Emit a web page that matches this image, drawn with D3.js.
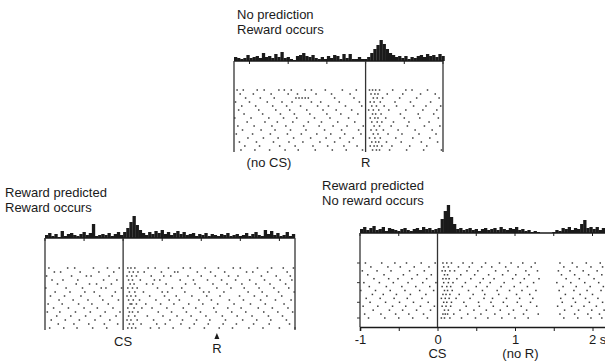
<!DOCTYPE html>
<html>
<head>
<meta charset="utf-8">
<script src="https://cdn.jsdelivr.net/npm/d3@7"></script>
<style>
  body { margin: 0; background: #fff; }
  svg { display: block; font-family: "Liberation Sans", Arial, sans-serif; }
</style>
</head>
<body>
<svg id="chart" width="605" height="362"></svg>
<script>
// bin width of the peri-event histograms (s)
const binWidth = 0.04;

// top: no prediction, reward occurs (time relative to R)
const topHistStart = -1.70;
const topHist = [4, 3, 2, 3, 6, 3, 4, 5, 3, 8, 4, 5, 3, 7, 4, 9, 3, 4, 2, 1, 5, 6, 8, 5, 4,
  6, 3, 2, 4, 2, 5, 3, 6, 5, 2, 7, 3, 7, 2, 2, 4, 2, 2,
  4, 8, 12, 16, 21, 17, 12, 8, 6, 4, 5, 3, 5, 2, 4, 3, 5, 6, 4, 7, 5, 6, 4, 7, 5];
const topTrials = [
  [-1.66, -1.58, -1.40, -1.31, -1.12, -1.05, -0.96, -0.78, -0.70, -0.52, -0.30, -0.12, 0.05, 0.09, 0.13, 0.18, 0.35, 0.52, 0.60, 0.80],
  [-1.62, -1.45, -1.22, -1.00, -0.88, -0.64, -0.44, -0.20, 0.07, 0.12, 0.16, 0.28, 0.48, 0.71, 0.90],
  [-1.55, -1.36, -1.18, -0.90, -0.86, -0.82, -0.78, -0.74, -0.40, -0.15, 0.10, 0.15, 0.22, 0.44, 0.66, 0.95],
  [-1.68, -1.50, -1.27, -1.08, -0.95, -0.70, -0.58, -0.34, -0.08, 0.06, 0.11, 0.19, 0.38, 0.58, 0.84],
  [-1.60, -1.42, -1.20, -1.02, -0.84, -0.62, -0.48, -0.26, -0.05, 0.08, 0.14, 0.24, 0.40, 0.62, 0.78, 0.97],
  [-1.64, -1.38, -1.16, -0.98, -0.76, -0.55, -0.38, -0.18, 0.04, 0.10, 0.17, 0.30, 0.52, 0.74, 0.92],
  [-1.57, -1.33, -1.10, -0.92, -0.72, -0.50, -0.32, -0.10, 0.09, 0.13, 0.20, 0.45, 0.68, 0.88],
  [-1.69, -1.48, -1.25, -1.06, -0.89, -0.66, -0.46, -0.22, 0.06, 0.12, 0.16, 0.26, 0.50, 0.70, 0.94],
  [-1.53, -1.30, -1.14, -0.94, -0.74, -0.57, -0.36, -0.14, 0.08, 0.15, 0.21, 0.36, 0.56, 0.82],
  [-1.65, -1.44, -1.21, -1.03, -0.80, -0.60, -0.42, -0.24, -0.03, 0.11, 0.18, 0.33, 0.54, 0.76, 0.96],
  [-1.59, -1.35, -1.17, -0.97, -0.77, -0.53, -0.31, -0.09, 0.07, 0.14, 0.23, 0.42, 0.64, 0.86],
  [-1.67, -1.46, -1.23, -1.01, -0.83, -0.63, -0.45, -0.27, -0.06, 0.10, 0.16, 0.29, 0.47, 0.69, 0.91],
  [-1.52, -1.32, -1.13, -0.93, -0.71, -0.51, -0.33, -0.16, 0.05, 0.12, 0.19, 0.39, 0.61, 0.83],
  [-1.63, -1.41, -1.19, -0.99, -0.81, -0.59, -0.40, -0.21, 0.08, 0.13, 0.17, 0.27, 0.46, 0.72, 0.93],
  [-1.56, -1.37, -1.11, -0.91, -0.68, -0.49, -0.28, -0.11, 0.06, 0.11, 0.15, 0.21, 0.34, 0.57, 0.79],
  [-1.61, -1.43, -1.24, -1.04, -0.87, -0.65, -0.43, -0.25, -0.04, 0.09, 0.14, 0.18, 0.31, 0.53, 0.75, 0.98]
];

// bottom left: reward predicted, reward occurs (time relative to CS)
const leftHistStart = -1.00;
const leftHist = [3, 5, 2, 4, 1, 7, 2, 4, 5, 3, 2, 4, 6, 3, 5, 14, 2, 3, 4, 3, 5, 2, 4, 6, 3,
  6, 10, 16, 22, 13, 8, 5, 3, 6, 4, 7, 5, 8, 4, 6, 3, 5, 7, 4, 6, 3, 4, 5, 2, 4,
  3, 5, 2, 4, 3, 2, 4, 3, 5, 2, 3, 4, 2, 3, 5, 2, 4, 6, 3, 2, 8, 4, 7, 3, 5,
  2, 3, 6, 2, 4];
const leftTrials = [
  [-0.95, -0.71, -0.62, -0.38, -0.20, -0.05, 0.06, 0.10, 0.15, 0.32, 0.41, 0.58, 0.77, 0.86, 1.05, 1.22, 1.41, 1.50, 1.72, 1.90, 2.05, 2.18],
  [-0.88, -0.80, -0.55, -0.31, -0.12, 0.08, 0.13, 0.19, 0.27, 0.49, 0.66, 0.70, 0.95, 1.12, 1.30, 1.58, 1.66, 1.85, 2.10],
  [-0.98, -0.66, -0.47, -0.41, -0.18, 0.05, 0.11, 0.17, 0.36, 0.52, 0.61, 0.83, 1.00, 1.18, 1.35, 1.47, 1.77, 1.96, 2.14],
  [-0.91, -0.77, -0.58, -0.25, -0.08, 0.07, 0.12, 0.22, 0.40, 0.47, 0.73, 0.90, 1.08, 1.26, 1.44, 1.62, 1.81, 2.01, 2.16],
  [-0.84, -0.60, -0.43, -0.34, -0.15, 0.09, 0.14, 0.30, 0.38, 0.55, 0.80, 0.92, 1.15, 1.33, 1.52, 1.70, 1.88, 2.08],
  [-0.99, -0.73, -0.52, -0.28, -0.22, -0.02, 0.06, 0.12, 0.18, 0.44, 0.63, 0.75, 0.98, 1.20, 1.38, 1.55, 1.74, 1.93, 2.12],
  [-0.87, -0.68, -0.49, -0.37, -0.10, 0.08, 0.15, 0.26, 0.50, 0.57, 0.79, 1.03, 1.10, 1.29, 1.60, 1.78, 1.99, 2.19],
  [-0.93, -0.75, -0.54, -0.30, -0.14, 0.05, 0.10, 0.16, 0.34, 0.53, 0.68, 0.88, 1.07, 1.24, 1.49, 1.68, 1.84, 2.03],
  [-0.82, -0.64, -0.45, -0.26, -0.06, 0.07, 0.13, 0.21, 0.42, 0.59, 0.72, 0.97, 1.13, 1.36, 1.54, 1.76, 1.95, 2.15],
  [-0.96, -0.78, -0.57, -0.40, -0.19, 0.09, 0.11, 0.17, 0.29, 0.48, 0.65, 0.84, 1.02, 1.21, 1.42, 1.63, 1.82, 2.06],
  [-0.89, -0.70, -0.50, -0.33, -0.13, 0.06, 0.14, 0.24, 0.37, 0.56, 0.77, 0.93, 1.16, 1.34, 1.51, 1.73, 1.91, 2.11],
  [-0.97, -0.81, -0.61, -0.42, -0.23, -0.04, 0.08, 0.12, 0.19, 0.45, 0.62, 0.81, 0.99, 1.19, 1.39, 1.57, 1.80, 1.98, 2.17],
  [-0.85, -0.67, -0.48, -0.29, -0.09, 0.07, 0.15, 0.31, 0.51, 0.69, 0.87, 1.06, 1.27, 1.46, 1.65, 1.86, 2.04],
  [-0.92, -0.74, -0.56, -0.36, -0.17, 0.05, 0.10, 0.18, 0.39, 0.60, 0.76, 0.94, 1.11, 1.31, 1.53, 1.71, 1.89, 2.09],
  [-0.83, -0.63, -0.44, -0.24, -0.07, 0.08, 0.13, 0.23, 0.43, 0.54, 0.74, 0.91, 1.09, 1.28, 1.45, 1.67, 1.87, 2.13],
  [-0.94, -0.76, -0.59, -0.39, -0.21, 0.06, 0.11, 0.16, 0.35, 0.46, 0.64, 0.85, 1.04, 1.23, 1.40, 1.61, 1.79, 2.00, 2.20]
];

// bottom right: reward predicted, no reward occurs (time relative to CS)
const rightHistStart = -1.00;
const rightHist = [4, 6, 3, 5, 7, 3, 4, 6, 2, 5, 4, 3, 2, 4, 5, 3, 2, 4, 5, 3, 6, 4, 5, 3, 4,
  5, 14, 22, 28, 16, 9, 4, 5, 3, 4, 5, 3, 4, 2, 4, 5, 3, 4, 5, 3, 6, 4, 3, 5, 4,
  6, 3, 4, 2, 3, 1, 2, 1, 0, 0, 0, 0, 1, 3, 2, 5, 4, 6, 3, 5, 4, 9, 13, 5, 6,
  4, 6, 3, 5];
const rightTrials = [
  [-0.93, -0.72, -0.55, -0.40, -0.21, -0.03, 0.07, 0.12, 0.18, 0.33, 0.45, 0.62, 0.80, 0.95, 1.10, 1.26, 1.58, 1.74, 1.92, 2.10],
  [-0.86, -0.64, -0.48, -0.30, -0.11, 0.08, 0.14, 0.27, 0.41, 0.57, 0.70, 0.88, 1.04, 1.21, 1.63, 1.80, 1.98, 2.13],
  [-0.97, -0.78, -0.60, -0.36, -0.17, 0.06, 0.10, 0.16, 0.22, 0.38, 0.52, 0.75, 0.91, 1.14, 1.29, 1.56, 1.71, 1.88, 2.06],
  [-0.90, -0.69, -0.44, -0.26, -0.08, 0.09, 0.13, 0.30, 0.48, 0.66, 0.84, 1.01, 1.18, 1.60, 1.77, 1.95, 2.12],
  [-0.82, -0.63, -0.51, -0.33, -0.14, 0.07, 0.11, 0.15, 0.25, 0.43, 0.59, 0.73, 0.97, 1.12, 1.31, 1.66, 1.83, 2.02],
  [-0.95, -0.75, -0.57, -0.38, -0.19, -0.02, 0.08, 0.14, 0.20, 0.36, 0.55, 0.68, 0.86, 1.07, 1.24, 1.54, 1.72, 1.90, 2.08],
  [-0.88, -0.66, -0.46, -0.28, -0.10, 0.06, 0.12, 0.17, 0.32, 0.50, 0.64, 0.82, 0.99, 1.16, 1.62, 1.79, 1.97, 2.14],
  [-0.99, -0.80, -0.61, -0.42, -0.23, -0.05, 0.09, 0.13, 0.19, 0.40, 0.58, 0.77, 0.93, 1.09, 1.27, 1.57, 1.76, 1.93, 2.11],
  [-0.84, -0.70, -0.53, -0.35, -0.15, 0.07, 0.11, 0.16, 0.28, 0.46, 0.61, 0.79, 1.02, 1.19, 1.65, 1.84, 2.00],
  [-0.92, -0.74, -0.56, -0.39, -0.20, 0.05, 0.10, 0.15, 0.24, 0.42, 0.60, 0.71, 0.89, 1.06, 1.23, 1.59, 1.75, 1.91, 2.07],
  [-0.87, -0.67, -0.49, -0.31, -0.12, 0.08, 0.12, 0.18, 0.34, 0.53, 0.69, 0.85, 1.03, 1.20, 1.61, 1.78, 1.96, 2.13],
  [-0.96, -0.77, -0.58, -0.41, -0.22, -0.04, 0.06, 0.11, 0.17, 0.37, 0.54, 0.72, 0.90, 1.08, 1.28, 1.55, 1.73, 1.89, 2.05],
  [-0.83, -0.62, -0.45, -0.27, -0.09, 0.09, 0.14, 0.29, 0.47, 0.63, 0.81, 0.98, 1.15, 1.64, 1.82, 1.99, 2.15],
  [-0.94, -0.73, -0.54, -0.37, -0.18, 0.07, 0.10, 0.13, 0.21, 0.39, 0.56, 0.74, 0.92, 1.11, 1.30, 1.58, 1.77, 1.94, 2.09],
  [-0.89, -0.68, -0.50, -0.32, -0.13, 0.05, 0.09, 0.16, 0.31, 0.49, 0.65, 0.83, 1.00, 1.17, 1.63, 1.81, 1.98, 2.12]
];

const axisTicks = [-1, -0.5, 0, 0.5, 1, 1.5, 2];
const axisLabels = { "-1": "-1", "0": "0", "1": "1", "2": "2 s" };

const svg = d3.select('#chart');
const ink = '#1a1a1a';

function drawPanel(p) {
  const g = svg.append('g');
  const x = d3.scaleLinear().domain(p.domain).range(p.xRange);
  const yH = d3.scaleLinear().domain([0, 22]).range([p.base, p.base - 22]);
  const yR = d3.scalePoint().domain(d3.range(p.trials.length)).range(p.rasterY);

  // histogram
  g.selectAll('rect.bin')
    .data(p.hist.map((v, i) => ({ t: p.histStart + i * binWidth, v })))
    .enter().append('rect')
    .attr('x', d => x(d.t))
    .attr('width', d => x(d.t + binWidth) - x(d.t) + 0.2)
    .attr('y', d => yH(d.v))
    .attr('height', d => p.base - yH(d.v))
    .attr('fill', ink);

  // baseline with half-second ticks below
  const xEnd = Math.min(x(p.domain[1]), 605);
  g.append('line').attr('x1', x(p.domain[0])).attr('x2', xEnd)
    .attr('y1', p.base).attr('y2', p.base).attr('stroke', ink).attr('stroke-width', 1.6);
  const halfTicks = d3.range(Math.ceil(p.domain[0] * 2) / 2, p.domain[1] + 0.001, 0.5);
  g.selectAll('line.ht').data(halfTicks).enter().append('line')
    .attr('x1', d => x(d)).attr('x2', d => x(d))
    .attr('y1', p.base).attr('y2', p.base + 3)
    .attr('stroke', ink).attr('stroke-width', 1);

  // frame and event line
  const frameX = [p.domain[0], 0];
  if (p.rightFrame) frameX.push(p.domain[1]);
  g.selectAll('line.frame').data(frameX).enter().append('line')
    .attr('x1', d => x(d)).attr('x2', d => x(d))
    .attr('y1', p.base).attr('y2', p.frameBottom)
    .attr('stroke', '#333').attr('stroke-width', 1.3);

  // raster
  const dots = [];
  p.trials.forEach((tr, i) => tr.forEach(t => dots.push({ t, i })));
  g.selectAll('rect.dot').data(dots).enter().append('rect')
    .attr('x', d => x(d.t) - 0.75)
    .attr('y', d => yR(d.i) - 0.75)
    .attr('width', 1.5).attr('height', 1.5)
    .attr('fill', '#3a3a3a');

  // titles
  g.selectAll('text.title').data(p.title).enter().append('text')
    .attr('x', p.titleX).attr('y', (d, i) => p.titleY + i * 15)
    .attr('font-size', 13).attr('fill', ink).text(d => d);

  return { g, x, yR };
}

// top panel
const topPanel = drawPanel({
  domain: [-1.70, 1.0], xRange: [234, 443], base: 61, rasterY: [90, 150], frameBottom: 152,
  hist: topHist, histStart: topHistStart, trials: topTrials, rightFrame: true,
  title: ['No prediction', 'Reward occurs'], titleX: 237, titleY: 19
});
topPanel.g.append('text').attr('x', 269).attr('y', 167).attr('text-anchor', 'middle')
  .attr('font-size', 13).attr('fill', ink).text('(no CS)');
topPanel.g.append('text').attr('x', topPanel.x(0)).attr('y', 167).attr('text-anchor', 'middle')
  .attr('font-size', 13).attr('fill', ink).text('R');

// bottom left panel
const leftPanel = drawPanel({
  domain: [-1.0, 2.2], xRange: [45, 295], base: 238, rasterY: [268, 328], frameBottom: 330,
  hist: leftHist, histStart: leftHistStart, trials: leftTrials, rightFrame: true,
  title: ['Reward predicted', 'Reward occurs'], titleX: 5, titleY: 197
});
leftPanel.g.append('text').attr('x', leftPanel.x(0)).attr('y', 346).attr('text-anchor', 'middle')
  .attr('font-size', 13).attr('fill', ink).text('CS');
const rTime = 1.2;
leftPanel.g.append('path')
  .attr('d', `M${leftPanel.x(rTime)},333 L${leftPanel.x(rTime) + 2.5},339 L${leftPanel.x(rTime) - 2.5},339 Z`)
  .attr('fill', ink);
leftPanel.g.append('text').attr('x', leftPanel.x(rTime)).attr('y', 353).attr('text-anchor', 'middle')
  .attr('font-size', 13).attr('fill', ink).text('R');

// bottom right panel
const rightPanel = drawPanel({
  domain: [-1.0, 2.2], xRange: [360, 608], base: 233, rasterY: [263, 318], frameBottom: 327,
  hist: rightHist, histStart: rightHistStart, trials: rightTrials, rightFrame: false,
  title: ['Reward predicted', 'No reward occurs'], titleX: 322, titleY: 190
});
// trial ticks on the left border
rightPanel.g.selectAll('line.tt').data([0, 5, 10, 14]).enter().append('line')
  .attr('x1', 357).attr('x2', 360)
  .attr('y1', d => rightPanel.yR(d)).attr('y2', d => rightPanel.yR(d))
  .attr('stroke', '#333');

const axis = d3.axisBottom(rightPanel.x).tickValues(axisTicks).tickSize(4).tickPadding(4)
  .tickFormat(d => axisLabels[String(d)] || '');
const ax = svg.append('g').attr('transform', 'translate(0,327)').call(axis);
ax.select('.domain').attr('stroke', ink).attr('stroke-width', 1.6);
ax.selectAll('.tick line').attr('stroke', ink);
ax.selectAll('.tick text').attr('font-size', 13).attr('fill', ink)
  .attr('font-family', '"Liberation Sans", Arial, sans-serif')
  .filter(d => d === 2).attr('text-anchor', 'start').attr('dx', -4);

svg.append('text').attr('x', rightPanel.x(0)).attr('y', 358).attr('text-anchor', 'middle')
  .attr('font-size', 13).attr('fill', ink).text('CS');
svg.append('text').attr('x', rightPanel.x(1.07)).attr('y', 358).attr('text-anchor', 'middle')
  .attr('font-size', 13).attr('fill', ink).text('(no R)');
</script>
</body>
</html>
